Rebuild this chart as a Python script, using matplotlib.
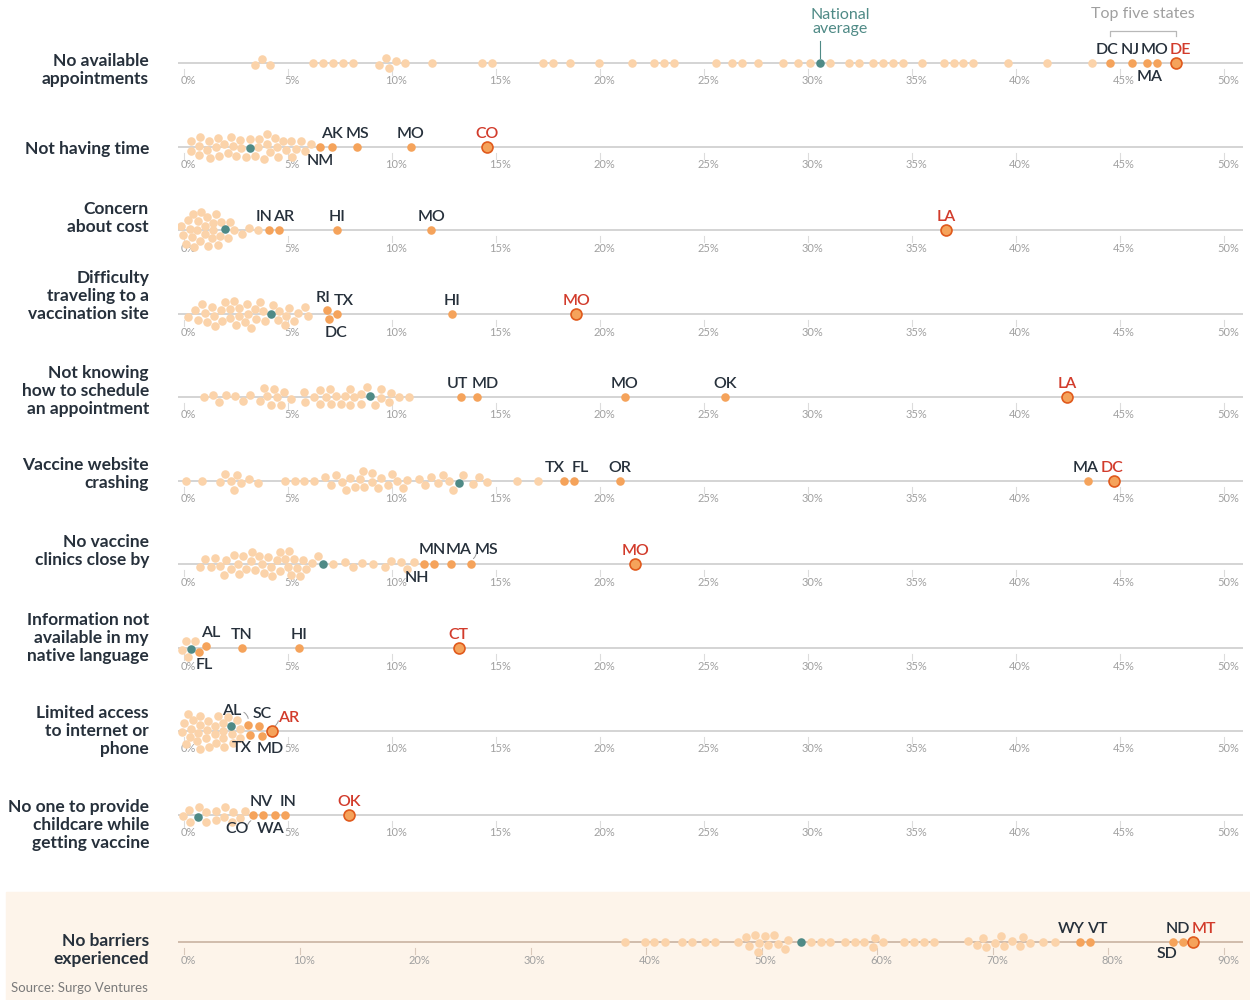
import numpy as np
import matplotlib.pyplot as plt
from matplotlib.patches import Rectangle

plt.rcParams['font.family'] = ['Lato', 'DejaVu Sans']

# ---------------- data (percent of respondents, by state) ----------------
barriers = ["No available\nappointments", "Not having time", "Concern\nabout cost",
            "Difficulty\ntraveling to a\nvaccination site",
            "Not knowing\nhow to schedule\nan appointment",
            "Vaccine website\ncrashing", "No vaccine\nclinics close by",
            "Information not\navailable in my\nnative language",
            "Limited access\nto internet or\nphone",
            "No one to provide\nchildcare while\ngetting vaccine",
            "No barriers\nexperienced"]

national_avg = [30.59, 3.03, 1.94, 4.08, 8.96, 13.21, 6.71, 0.27, 2.21, 0.67, 53.36]

top_states = [["DC", "NJ", "MA", "MO", "DE"],
              ["NM", "AK", "MS", "MO", "CO"],
              ["IN", "AR", "HI", "MO", "LA"],
              ["RI", "DC", "TX", "HI", "MO"],
              ["UT", "MD", "MO", "OK", "LA"],
              ["TX", "FL", "OR", "MA", "DC"],
              ["NH", "MN", "MA", "MS", "MO"],
              ["FL", "AL", "TN", "HI", "CT"],
              ["AL", "TX", "SC", "MD", "AR"],
              ["CO", "NV", "WA", "IN", "OK"],
              ["WY", "VT", "SD", "ND", "MT"]]

top_values = [[44.54, 45.60, 46.28, 46.77, 47.70],
              [6.54, 7.10, 8.32, 10.91, 14.58],
              [4.07, 4.55, 7.37, 11.88, 36.63],
              [6.89, 6.96, 7.34, 12.87, 18.86],
              [13.33, 14.09, 21.20, 26.00, 42.45],
              [18.26, 18.75, 20.96, 43.45, 44.70],
              [11.54, 12.02, 12.84, 13.80, 21.70],
              [0.71, 1.06, 2.77, 5.54, 13.21],
              [3.06, 3.17, 3.62, 3.72, 4.25],
              [3.33, 3.81, 4.39, 4.86, 7.95],
              [77.51, 78.41, 85.58, 86.47, 87.33]]

other_1 = [3.44, 3.77, 4.13, 6.22, 6.70, 7.18, 7.66, 8.14, 9.39, 9.72, 9.87, 10.19,
           10.63, 11.92, 14.33, 14.81, 17.28, 17.76, 18.54, 19.97, 21.52, 22.60, 23.08,
           23.56, 25.60, 26.35, 26.82, 27.60, 28.78, 29.53, 30.12, 31.06, 31.98, 32.45,
           33.13, 33.62, 34.09, 34.56, 35.50, 36.53, 37.00, 37.47, 37.94, 39.60, 41.48, 43.65]
other_2 = [0.32, 0.37, 0.74, 0.77, 0.80, 1.05, 1.17, 1.25, 1.57, 1.62, 1.70, 1.97, 2.13,
           2.25, 2.37, 2.50, 2.60, 2.85, 2.98, 3.22, 3.46, 3.53, 3.69, 3.85, 3.97, 4.01,
           4.13, 4.42, 4.46, 4.49, 4.70, 4.89, 5.02, 5.22, 5.38, 5.60, 5.82, 6.10]
other_3 = [0.00, 0.05, 0.13, 0.20, 0.29, 0.37, 0.45, 0.55, 0.61, 0.74, 0.77, 0.85, 0.93,
           1.06, 1.15, 1.22, 1.25, 1.33, 1.41, 1.50, 1.57, 1.70, 1.73, 2.05, 2.18, 2.37,
           2.77, 3.14, 3.57]
other_4 = [0.21, 0.53, 0.74, 0.90, 1.01, 1.22, 1.30, 1.38, 1.49, 1.70, 1.89, 1.97, 2.18,
           2.21, 2.45, 2.48, 2.64, 2.69, 2.93, 2.96, 3.12, 3.17, 3.38, 3.41, 3.62, 3.85,
           3.89, 4.33, 4.54, 4.58, 4.81, 4.86, 5.02, 5.30, 5.50, 5.79, 5.98]
other_5 = [0.94, 1.41, 1.70, 2.02, 2.46, 2.84, 3.18, 3.68, 3.85, 3.98, 4.17, 4.32, 4.46,
           4.65, 4.80, 5.12, 5.79, 5.84, 6.26, 6.55, 6.58, 6.79, 7.02, 7.12, 7.31, 7.50,
           7.74, 7.97, 8.01, 8.26, 8.45, 8.48, 8.73, 9.21, 9.45, 9.49, 9.87, 9.93, 10.35, 10.82]
other_6 = [0.10, 0.86, 1.74, 2.00, 2.25, 2.39, 2.56, 2.70, 3.17, 3.52, 4.87, 5.32, 5.79,
           6.24, 6.81, 7.06, 7.32, 7.57, 7.83, 8.00, 8.18, 8.45, 8.59, 8.65, 9.00, 9.06,
           9.30, 9.51, 9.82, 10.02, 10.22, 10.49, 10.74, 11.29, 11.60, 11.86, 12.21,
           12.47, 12.74, 12.94, 13.39, 13.91, 14.17, 14.58, 15.99, 17.03]
other_7 = [0.78, 1.02, 1.29, 1.53, 1.74, 1.90, 2.04, 2.30, 2.45, 2.60, 2.70, 2.82, 2.92,
           3.17, 3.30, 3.42, 3.68, 3.78, 3.90, 3.99, 4.19, 4.29, 4.44, 4.60, 4.70, 4.87,
           4.91, 5.00, 5.15, 5.21, 5.46, 5.58, 5.70, 5.83, 6.13, 6.38, 7.12, 7.77, 8.14,
           8.53, 9.10, 9.67, 9.96, 10.43, 10.74, 11.04]
other_8 = [0.00, 0.10, 0.20, 0.50]
other_9 = [0.00, 0.10, 0.15, 0.26, 0.29, 0.35, 0.45, 0.61, 0.66, 0.69, 0.72, 0.80, 1.06,
           1.09, 1.12, 1.25, 1.46, 1.49, 1.57, 1.70, 1.81, 1.86, 1.89, 1.92, 2.05, 2.29,
           2.34, 2.50, 2.66, 2.69]
other_10 = [0.00, 0.21, 0.29, 0.74, 1.06, 1.09, 1.49, 1.54, 1.92, 1.97, 2.29, 2.34, 2.69, 2.93]
other_11 = [38.20, 39.88, 40.71, 41.60, 43.11, 43.97, 45.08, 45.94, 47.95, 48.66, 48.91,
            49.49, 49.67, 49.74, 50.28, 50.56, 51.10, 51.42, 51.96, 52.28, 54.22, 55.11,
            55.94, 57.19, 58.05, 58.88, 59.59, 59.77, 60.53, 62.35, 63.18, 64.04, 64.89,
            67.91, 68.63, 69.16, 69.45, 70.17, 70.70, 70.92, 71.60, 72.39, 72.57, 73.21,
            74.36, 75.36]
others = [other_1, other_2, other_3, other_4, other_5, other_6, other_7, other_8,
          other_9, other_10, other_11]

# ---------------- layout ----------------
W, H = 1250, 1000
line_y = [63, 147, 230, 314, 397, 481, 564, 648, 731, 815, 942]
label_y = [70, 149, 218, 296, 391, 474, 551, 638, 731, 825, 950]
# label offsets (dx, dy) in px relative to the dot
lab_off = [[(-3, 13), (-2, 13), (3, -14), (-2, 13), (4, 13)],
           [(0, -14), (0, 13), (0, 13), (0, 13), (0, 13)],
           [(-5, 13), (5, 13), (0, 13), (0, 13), (0, 13)],
           [(-4, 12), (7, -14), (7, 13), (0, 13), (0, 13)],
           [(-4, 13), (8, 13), (0, 13), (0, 13), (0, 13)],
           [(-9, 13), (6, 13), (0, 13), (-2, 13), (-2, 13)],
           [(-7, -14), (-2, 14), (8, 14), (15, 14), (0, 13)],
           [(5, -13), (4, 13), (0, 13), (0, 13), (0, 13)],
           [(-17, 14), (-8, -13), (3, 12), (9, -13), (16, 13)],
           [(-16, -14), (-2, 13), (-5, -14), (3, 13), (0, 13)],
           [(-8, 13), (7, 13), (-6, -12), (-5, 13), (11, 13)]]
leaders = {(6, 3), (8, 0), (8, 4), (9, 0)}

light = '#fbd3aa'
orange = '#f5a35b'
teal = '#4f8a86'
red = '#d23b2b'
dark = '#26303b'
grey_txt = '#a0a0a0'


def fx(px):
    return px / W


def fy(py):
    return 1 - py / H


def swarm(xpx, y0, dist=9.6, steps=500):
    x = xpx.copy()
    y = y0.copy()
    for _ in range(steps):
        x += (xpx - x) * 0.15
        y -= y * 0.02
        dx = x[:, None] - x[None, :]
        dy = y[:, None] - y[None, :]
        d = np.hypot(dx, dy) + 1e-6
        np.fill_diagonal(d, np.inf)
        over = np.clip(dist - d, 0, None) / d
        x += 0.25 * (dx * over).sum(1)
        y += 0.25 * (dy * over).sum(1)
    return x, y


fig = plt.figure(figsize=(12.5, 10), dpi=100)
fig.patches.append(Rectangle((fx(6), 0), fx(1250) - fx(6), 108 / H,
                             transform=fig.transFigure, color='#fdf4ea', zorder=-5))

for i, name in enumerate(barriers):
    last = i == len(barriers) - 1
    xmax = 90 if last else 50
    k = 1040 / xmax
    ly = line_y[i]
    ax = fig.add_axes([fx(178), fy(ly + 40), fx(1243) - fx(178), 80 / H])
    ax.set_zorder(2)
    ax.set_xlim(-6 / k, xmax + 19 / k)
    ax.set_ylim(-40, 40)
    ax.axis('off')
    lc = '#c4ad9b' if last else '#c9c9c9'
    ax.axhline(0, color=lc, lw=1.1, zorder=1)
    step = 10 if last else 5
    for t in range(0, xmax + 1, step):
        ax.plot([t, t], [-6, -12], color='#dcdcdc' if not last else '#d9c9bb', lw=0.8)
        ax.text(t + 4 / k, -18, f"{t}%", ha='center', va='center', fontsize=8,
                color=grey_txt)

    fig.text(fx(149), fy(label_y[i]), name, ha='right', va='center', fontsize=12.5,
             fontweight='bold', color=dark, linespacing=1.12)

    oth = np.array(others[i], dtype=float)
    tv = np.array(top_values[i], dtype=float)
    vals = np.concatenate([oth, [national_avg[i]], tv])
    n_o = len(oth)
    y0 = np.sin(np.arange(len(vals)) * 2.4) * 2.0
    y0[n_o + 1:] = [1.5 if off[1] > 0 else -1.5 for off in lab_off[i]]
    y0[n_o] = 0.0
    xs, ys = swarm(vals * k, y0)
    xd = xs / k

    ax.scatter(xd[:n_o], ys[:n_o], s=38, color=light, lw=0, zorder=3)
    ax.scatter(xd[n_o + 1:-1], ys[n_o + 1:-1], s=38, color=orange, lw=0, zorder=4)
    ax.scatter(xd[-1:], ys[-1:], s=62, color=orange, edgecolor='#e05a1c', lw=1.2, zorder=5)
    ax.scatter(xd[n_o:n_o + 1], ys[n_o:n_o + 1], s=38, color=teal, lw=0, zorder=5)

    for j, st in enumerate(top_states[i]):
        dx, dy = lab_off[i][j]
        px, py = xd[n_o + 1 + j], ys[n_o + 1 + j]
        tx, ty = px + dx / k, py + dy
        ax.text(tx, ty, st, ha='center', va='center', fontsize=11.5, fontweight='semibold',
                color=red if j == 4 else dark, zorder=6)
        if (i, j) in leaders:
            sx = tx + (10 if dx < 0 else -10) / k
            ax.annotate('', xy=(px, py + (4 if dy > 0 else -4)), xytext=(sx, ty),
                        arrowprops=dict(arrowstyle='-', color='#9a9a9a', lw=0.7,
                                        connectionstyle='arc3,rad=-0.4'))

    if i == 0:
        a = xd[n_o]
        ax.plot([a, a], [5, 22], color=teal, lw=0.8)
        fig.text(fx(184 + a * k + 20), fy(22), "National\naverage", ha='center',
                 va='center', fontsize=11.5, color=teal, linespacing=1.0)
        x1, x2 = xd[n_o + 1], xd[-1]
        ax.plot([x1, x1, x2, x2], [27, 32, 32, 27], color='#b8b8b8', lw=0.9)
        fig.text(fx(184 + (x1 + x2) / 2 * k), fy(14), "Top five states", ha='center',
                 va='center', fontsize=11.5, color='#a0a0a0')

fig.text(fx(11), fy(988), "Source: Surgo Ventures", ha='left', va='center',
         fontsize=9.5, color='#7a7a7a')

fig.savefig('out.png', dpi=100)
